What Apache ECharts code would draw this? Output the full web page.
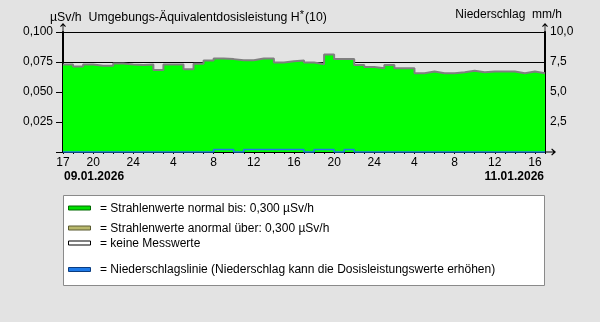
<!DOCTYPE html>
<html><head><meta charset="utf-8">
<script src="https://cdn.jsdelivr.net/npm/echarts@6/dist/echarts.min.js"></script>
<style>html,body{margin:0;padding:0;background:#e3e3e3}#c{width:600px;height:322px}</style>
</head><body><div id="c"></div>
<script>
// hourly values starting 09.01.2026 17:00
const startHour = 17;
const doseRate = [
  0.0729, 0.0712, 0.0729, 0.0718, 0.0718, 0.0737, 0.0729, 0.0724, 0.0729, 0.0684, 0.0729, 0.0729,
  0.0690, 0.0735, 0.0762, 0.0779, 0.0774, 0.0765, 0.0765, 0.0779, 0.0779, 0.0745, 0.0757, 0.0762,
  0.0745, 0.0732, 0.0812, 0.0774, 0.0774, 0.0726, 0.0709, 0.0698, 0.0724, 0.0698, 0.0698, 0.0657,
  0.0670, 0.0657, 0.0657, 0.0665, 0.0678, 0.0665, 0.0670, 0.0670, 0.0670, 0.0657, 0.0670, 0.0657
];
const precipitation = [
  0, 0, 0, 0, 0, 0, 0, 0, 0, 0, 0, 0,
  0, 0, 0, 0.2, 0.2, 0, 0.2, 0.2, 0.2, 0.2, 0.2, 0.2,
  0, 0.2, 0.2, 0, 0.2, 0, 0, 0, 0, 0, 0, 0,
  0, 0, 0, 0, 0, 0, 0, 0, 0, 0, 0, 0
];
const tickHours  = [17, 20, 24, 28, 32, 36, 40, 44, 48, 52, 56, 60, 64];
const tickLabels = ['17','20','24','4','8','12','16','20','24','4','8','12','16'];
const dateLeft = '09.01.2026';
const dateRight = '11.01.2026';
const legendItems = [
  {text: '= Strahlenwerte normal bis: 0,300 µSv/h', fill: '#00e000', stroke: '#006a00'},
  {text: '= Strahlenwerte anormal über: 0,300 µSv/h', fill: '#b8b86c', stroke: '#5a5a30'},
  {text: '= keine Messwerte', fill: '#ffffff', stroke: '#000000'},
  {text: '= Niederschlagslinie (Niederschlag kann die Dosisleistungswerte erhöhen)', fill: '#1e7ae8', stroke: '#0a3c80'}
];

const toSteps = arr => {
  const d = arr.map((v, i) => [startHour + i, v]);
  d.push([startHour + arr.length, arr[arr.length - 1]]);
  return d;
};
const FONT = 'Liberation Sans, Arial, sans-serif';
const ARROW = 'path://M0,4 L3.5,0 L7,4 L6.2,4.8 L4,2.6 L4,11 L3,11 L3,2.6 L0.8,4.8 Z';

const legendY = [208.5, 228.5, 243.5, 270];
const graphic = [
  {type: 'rect', shape: {x: 63.5, y: 195.5, width: 481, height: 90}, style: {fill: '#ffffff', stroke: '#8a8a8a', lineWidth: 1}, z: 0},
  {type: 'text', left: 64, top: 171, style: {text: dateLeft, font: 'bold 12px ' + FONT, fill: '#000'}},
  {type: 'text', right: 56, top: 171, style: {text: dateRight, font: 'bold 12px ' + FONT, fill: '#000'}}
];
legendItems.forEach((it, i) => {
  graphic.push({type: 'rect', shape: {x: 68.5, y: legendY[i] - 2.5, width: 22, height: 4}, style: {fill: it.fill, stroke: it.stroke, lineWidth: 1}, z: 1});
  graphic.push({type: 'text', x: 100, y: legendY[i], style: {text: it.text, font: '12px ' + FONT, fill: '#000', textVerticalAlign: 'middle'}, z: 1});
});

const chart = echarts.init(document.getElementById('c'), null, {renderer: 'canvas'});
chart.setOption({
  backgroundColor: '#e3e3e3',
  animation: false,
  textStyle: {fontFamily: FONT},
  title: [
    {text: '{a|µSv/h  Umgebungs-Äquivalentdosisleistung H}{s|*}{a|(10)}', left: 50, top: 9, padding: 0,
     textStyle: {fontWeight: 'normal', rich: {a: {fontSize: 12.3, color: '#000', fontFamily: FONT}, s: {fontSize: 11, color: '#000', fontFamily: FONT, padding: [0, 1, 7, 0]}}}},
    {text: 'Niederschlag  mm/h', right: 38, top: 9, padding: 0,
     textStyle: {fontSize: 12, fontWeight: 'normal', color: '#000', fontFamily: FONT}}
  ],
  grid: {left: 63, right: 55, top: 32, bottom: 170, containLabel: false},
  xAxis: {
    type: 'value', min: startHour, max: startHour + doseRate.length, interval: 1,
    axisLine: {lineStyle: {color: '#000', width: 2}, symbol: ['none', ARROW], symbolSize: [7, 11], symbolOffset: [0, 5.5]},
    axisTick: {show: true, length: 2, lineStyle: {color: '#000', width: 1}},
    axisLabel: {margin: 5, fontSize: 12, color: '#000', fontFamily: FONT, showMinLabel: true, showMaxLabel: true,
      formatter: v => { const k = tickHours.indexOf(Math.round(v)); return k >= 0 ? tickLabels[k] : ''; }},
    splitLine: {show: false}
  },
  yAxis: [
    {type: 'value', position: 'left', min: 0, max: 0.1, interval: 0.025,
     axisLine: {show: true, lineStyle: {color: '#000', width: 2}, symbol: ['none', ARROW], symbolSize: [7, 9], symbolOffset: [0, 4.5]},
     axisTick: {show: true, length: 7, lineStyle: {color: '#000', width: 1}},
     axisLabel: {margin: 10, fontSize: 12, color: '#000', fontFamily: FONT,
       formatter: v => v === 0 ? '' : v.toFixed(3).replace('.', ',')},
     splitLine: {show: true, lineStyle: {color: '#000', width: 1}}},
    {type: 'value', position: 'right', min: 0, max: 10, interval: 2.5,
     axisLine: {show: true, lineStyle: {color: '#000', width: 2}, symbol: ['none', ARROW], symbolSize: [7, 9], symbolOffset: [0, 4.5]},
     axisTick: {show: false},
     axisLabel: {margin: 5, fontSize: 12, color: '#000', fontFamily: FONT,
       formatter: v => v === 0 ? '' : v.toFixed(1).replace('.', ',')},
     splitLine: {show: false}}
  ],
  series: [
    {name: 'Dosisleistung', type: 'line', step: 'end', yAxisIndex: 0, data: toSteps(doseRate), symbol: 'none',
     lineStyle: {color: '#808080', width: 2}, areaStyle: {color: '#00ff00', opacity: 1}, z: 2},
    {name: 'Niederschlag', type: 'line', step: 'end', yAxisIndex: 1, data: toSteps(precipitation), symbol: 'none',
     lineStyle: {color: '#1e78e6', width: 1.5}, z: 3}
  ],
  graphic: graphic
});
</script></body></html>
